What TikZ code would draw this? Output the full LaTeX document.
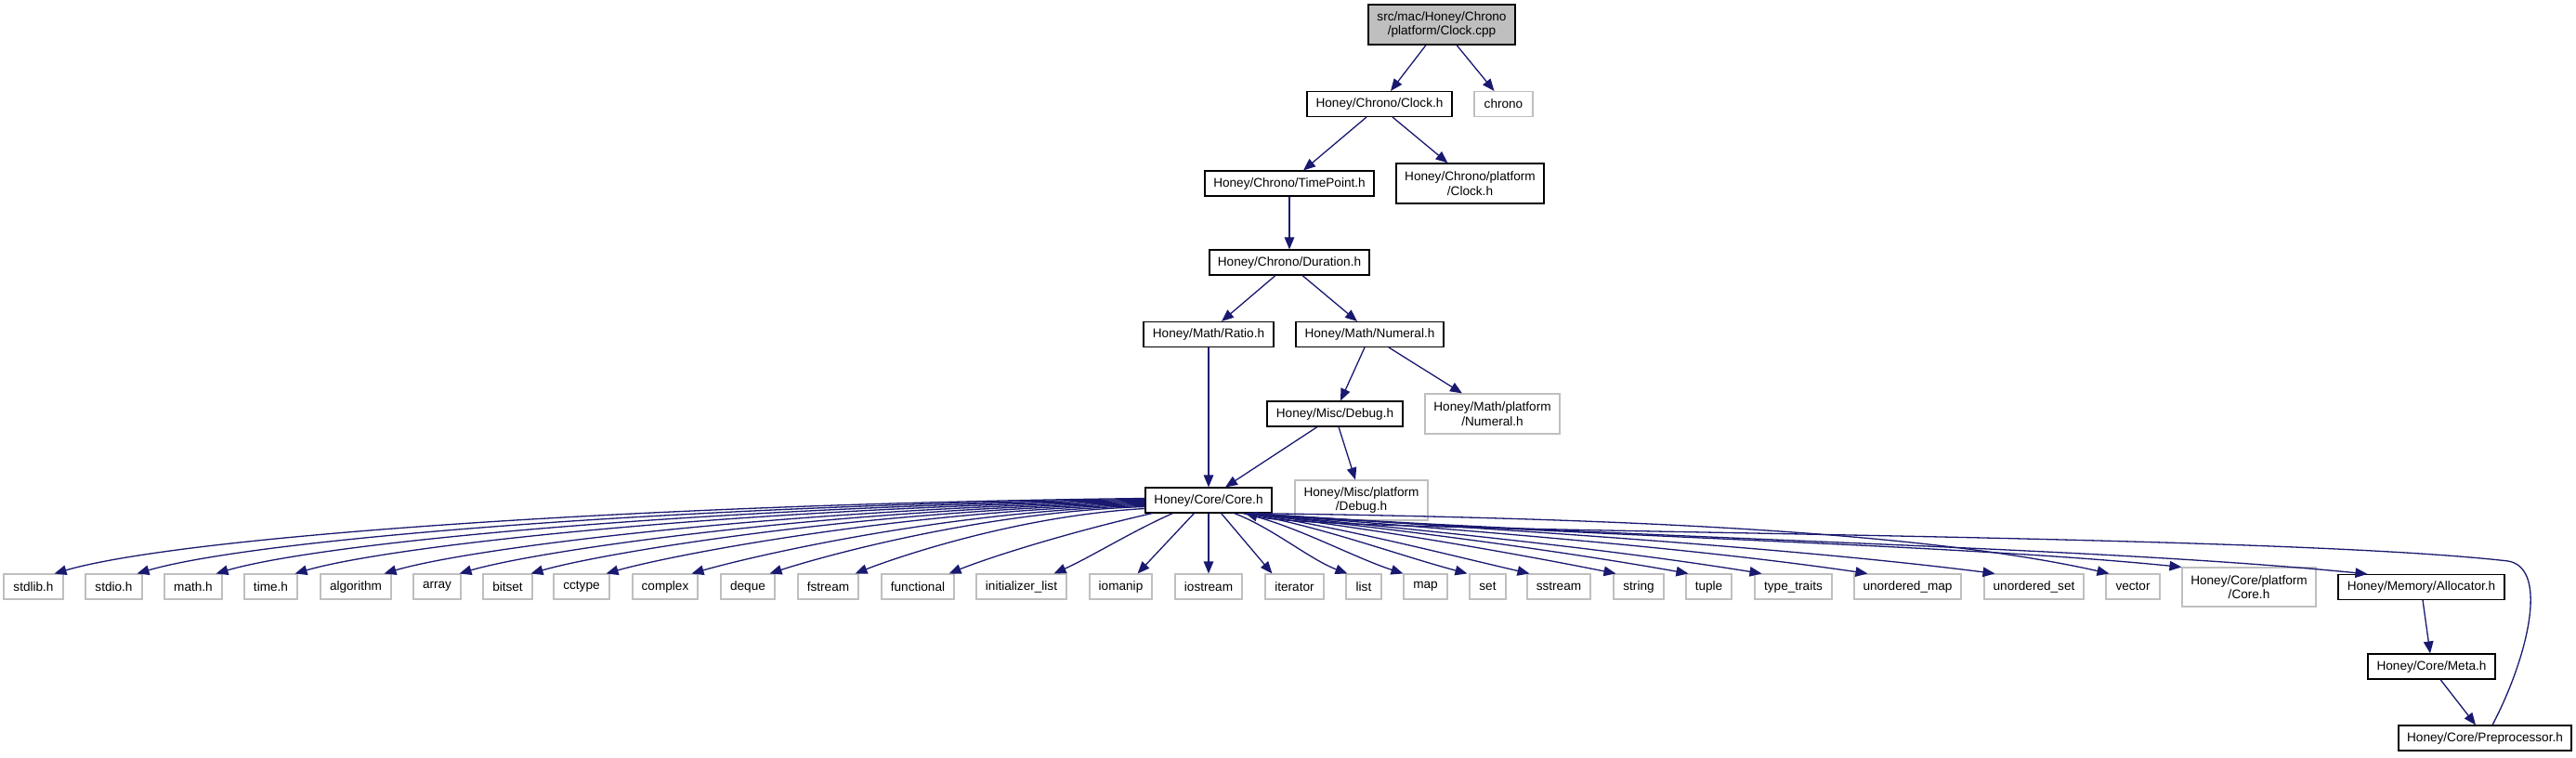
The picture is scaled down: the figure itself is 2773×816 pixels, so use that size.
\documentclass[tikz,border=0pt]{standalone}
\usepackage{fontspec}
\setmainfont{Liberation Sans}
\usetikzlibrary{arrows.meta}
\definecolor{edgeblue}{HTML}{191970}
\definecolor{lightgrey}{HTML}{BFBFBF}
\definecolor{rootfill}{HTML}{BFBFBF}
\begin{document}
\begin{tikzpicture}[x=1pt,y=-1pt,font=\fontsize{13.6}{15.5}\selectfont,
  box/.style={draw=black,line width=1.1pt,fill=white,inner xsep=2pt,inner ysep=0pt,minimum height=27pt,align=center,text=black},
  ext/.style={box,draw=lightgrey},
  twoline/.style={minimum height=43pt},
  edge/.style={draw=edgeblue,line width=1.3pt,-{Triangle[length=13pt,width=10.5pt]}}]
\useasboundingbox[fill=white] (0,0) rectangle (2773,816);

% top part
\node[box,twoline,fill=rootfill,minimum width=158pt] (cpp) at (1552,26.5) {src/mac/Honey/Chrono\\/platform/Clock.cpp};
\node[box,minimum width=156pt] (clockh) at (1485,112) {Honey/Chrono/Clock.h};
\node[ext,minimum width=63pt] (chrono) at (1618.5,112) {chrono};
\node[box,minimum width=182pt] (timepoint) at (1388,197.5) {Honey/Chrono/TimePoint.h};
\node[box,twoline,minimum width=159pt] (platclock) at (1582.5,197.5) {Honey/Chrono/platform\\/Clock.h};
\node[box,minimum width=172pt] (duration) at (1388,282.5) {Honey/Chrono/Duration.h};
\node[box,minimum width=140pt] (ratio) at (1301,360) {Honey/Math/Ratio.h};
\node[box,minimum width=159pt] (numeral) at (1474.5,360) {Honey/Math/Numeral.h};
\node[box,minimum width=146pt] (debug) at (1437,445.5) {Honey/Misc/Debug.h};
\node[ext,twoline,minimum width=145pt] (platnumeral) at (1606.5,445.5) {Honey/Math/platform\\/Numeral.h};
\node[box,minimum width=136pt] (core) at (1301,538.5) {Honey/Core/Core.h};
\node[ext,twoline,minimum width=143pt] (platdebug) at (1465.5,538.5) {Honey/Misc/platform\\/Debug.h};

% bottom row
\foreach \nm/\cx/\ww/\txt in {stdlib/36/64/stdlib.h, stdio/122.5/61/stdio.h, math/208/62/math.h,
  time/291.5/57/time.h, algorithm/383/76/algorithm, array/470.5/51/array, bitset/546.5/53/bitset,
  cctype/626/60/cctype, complex/716/70/complex, deque/805/58/deque, fstream/891.5/65/fstream,
  functional/988/78/functional, initlist/1099.5/97/initializer\_list, iomanip/1206.5/67/iomanip,
  iostream/1301/72/iostream, iterator/1393.5/63/iterator, list/1468/38/list, map/1534.5/47/map,
  set/1601.5/39/set, sstream/1678/68/sstream, string/1764/54/string, tuple/1839.5/49/tuple,
  typetraits/1930.5/83/type\_traits, umap/2053.5/115/unordered\_map, uset/2189.5/107/unordered\_set,
  vector/2296/58/vector}
  \node[ext,minimum width=\ww pt] (\nm) at (\cx,631.5) {\txt};
\node[ext,twoline,minimum width=144pt,minimum height=42pt] (platcore) at (2421,632) {Honey/Core/platform\\/Core.h};
\node[box,minimum width=179pt] (allocator) at (2606.5,632) {Honey/Memory/Allocator.h};
\node[box,minimum width=137pt] (meta) at (2617.5,717.5) {Honey/Core/Meta.h};
\node[box,minimum width=186pt] (preproc) at (2675,794.5) {Honey/Core/Preprocessor.h};

% top edges
\draw[edge] ([xshift=-17pt]cpp.south) -- ([xshift=12pt]clockh.north);
\draw[edge] ([xshift=16pt]cpp.south) -- ([xshift=-10pt]chrono.north);
\draw[edge] ([xshift=-14pt]clockh.south) -- ([xshift=15pt]timepoint.north);
\draw[edge] ([xshift=14pt]clockh.south) -- ([xshift=-24pt]platclock.north);
\draw[edge] (timepoint.south) -- (duration.north);
\draw[edge] ([xshift=-15pt]duration.south) -- ([xshift=14pt]ratio.north);
\draw[edge] ([xshift=14pt]duration.south) -- ([xshift=-13.5pt]numeral.north);
\draw[edge] (ratio.south) -- (core.north);
\draw[edge] ([xshift=-5.5pt]numeral.south) -- ([xshift=6pt]debug.north);
\draw[edge] ([xshift=20.5pt]numeral.south) -- ([xshift=-32.5pt]platnumeral.north);
\draw[edge] ([xshift=-19pt]debug.south) -- ([xshift=18pt]core.north);
\draw[edge] ([xshift=4pt]debug.south) -- ([xshift=-6.5pt]platdebug.north);
\draw[edge] ([xshift=1.5pt]allocator.south) -- ([xshift=-1.5pt]meta.north);
\draw[edge] ([xshift=9.5pt]meta.south) -- ([xshift=-10pt]preproc.north);

% left edges from Core.h
\foreach \nm/\dy/\xs/\ax/\ay/\bx/\by in {
  stdlib/2/-10/-529/6/141/-41, stdio/1/-6/-489/6/130/-38, math/0/-7/-450/6/120/-35,
  time/-1/-3/-412/6/110/-32, algorithm/-2/-8/-369/6/98/-29, array/-3/-2/-333/6/89/-26,
  bitset/-4/-2/-298/6/79/-23, cctype/-5/-4/-261/6/70/-20, complex/-6/-7/-220/6/59/-17,
  deque/-7/-6/-182/6/49/-16, fstream/-9/-4/-141/8/38/-15}
  \draw[edge] ([yshift=\dy pt]core.west) .. controls +(\ax,\ay) and +(\bx,\by) .. ([xshift=\xs pt]\nm.north east);
\draw[edge] ([xshift=8pt]core.south west) .. controls +(-80,18) and +(50,-20) .. ([xshift=-6pt]functional.north east);
\draw[edge] ([xshift=30pt]core.south west) .. controls +(-45,20) and +(40,-18) .. ([xshift=-14pt]initlist.north east);
\draw[edge] ([xshift=53pt]core.south west) -- ([xshift=-16pt]iomanip.north east);

% right edges from Core.h
\draw[edge] (core.south) -- (iostream.north);
\draw[edge] ([xshift=-55pt]core.south east) -- ([xshift=8pt]iterator.north west);
\draw[edge] ([xshift=-41pt]core.south east) .. controls +(40,15) and +(-40,-15) .. ([xshift=2pt]list.north west);
\foreach \nm/\sx/\xs/\ax/\ay/\bx/\by in {
  map/-32/0/55/12/-55/-18, set/-28/-2/80/14/-75/-20, sstream/-26/3/100/15/-95/-22,
  string/-26/3/130/16/-120/-24, tuple/-26/3/160/17/-140/-25, typetraits/-26/8/190/18/-160/-26,
  umap/-26/15/230/18/-190/-28, uset/-26/12/280/18/-220/-28, vector/-26/4/400/5/-200/-45,
  platcore/-26/0/350/25/-250/-25, allocator/-26/32/420/28/-300/-30}
  \draw[edge] ([xshift=\sx pt]core.south east) .. controls +(\ax,\ay) and +(\bx,\by) .. ([xshift=\xs pt]\nm.north west);

% back edge Preprocessor -> Core
\draw[edge] ([xshift=8pt]preproc.north) .. controls (2720,710) and (2745,612) .. (2700,604)
  .. controls (2420,572) and (1420,575) .. ([xshift=-29pt]core.south east);
\end{tikzpicture}
\end{document}
